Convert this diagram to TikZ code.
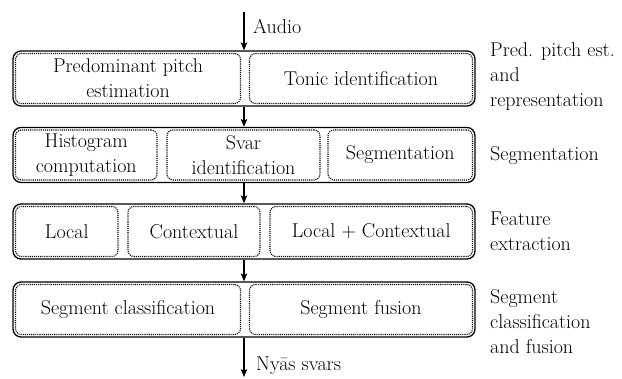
\documentclass[tikz,border=0pt]{standalone}
\usepackage{fontspec}
\usetikzlibrary{arrows.meta}
\begin{document}
\begin{tikzpicture}[x=1pt,y=-1pt,
  every node/.style={font=\fontsize{20}{25}\selectfont},
  outbox/.style={draw, line width=1.3pt, rounded corners=8pt, minimum width=462pt, minimum height=55pt, inner sep=0pt},
  inbox/.style={draw, densely dotted, line width=1.1pt, rounded corners=6pt, minimum height=50pt, align=center, inner sep=0pt},
  flow/.style={line width=1.2pt, -{Stealth[length=8pt,width=6.5pt,inset=2pt]}},
  sidelabel/.style={anchor=west, align=left, inner sep=0pt}]
\useasboundingbox (0,0) rectangle (622,379);
% outer boxes
\node[outbox] (o1) at (244,78.5) {};
\node[outbox] (o2) at (244,155) {};
\node[outbox] (o3) at (244,231.5) {};
\node[outbox] (o4) at (244,309.5) {};
% row 1
\node[inbox, minimum width=225pt] (pp) at (128,78.5) {Predominant pitch\\estimation};
\node[inbox, minimum width=223pt] (ti) at (361,78.5) {Tonic identification};
% row 2
\node[inbox, minimum width=141.5pt] (hc) at (86.25,155) {Histogram\\computation};
\node[inbox, minimum width=153pt] (si) at (243.5,155) {Svar\\identification};
\node[inbox, minimum width=144.5pt] (sg) at (400.25,155) {Segmentation};
% row 3
\node[inbox, minimum width=102.5pt] (lo) at (66.75,231.5) {Local};
\node[inbox, minimum width=132pt] (co) at (194,231.5) {Contextual};
\node[inbox, minimum width=202.5pt] (lc) at (371.25,231.5) {Local + Contextual};
% row 4
\node[inbox, minimum width=225pt] (sc) at (128,309.5) {Segment classification};
\node[inbox, minimum width=223pt] (sf) at (361,309.5) {Segment fusion};
% side labels
\node[sidelabel] (l1) at (490,77) {Pred. pitch est.\\and\\representation};
\node[sidelabel] (l2) at (490,156) {Segmentation};
\node[sidelabel] (l3) at (490,231) {Feature\\extraction};
\node[sidelabel] (l4) at (490,322) {Segment\\classification\\and fusion};
% input / output
\coordinate (in) at (244,12);
\coordinate (out) at (244,377);
\node[anchor=west, inner sep=0pt] (audio) at (253,27) {Audio};
\node[anchor=west, inner sep=0pt] (nyas) at (256,366) {Nyās svars};
% connectors
\draw[flow] (in) -- (o1.north);
\draw[flow] (o1.south) -- (o2.north);
\draw[flow] (o2.south) -- (o3.north);
\draw[flow] (o3.south) -- (o4.north);
\draw[flow] (o4.south) -- (out);
\end{tikzpicture}
\end{document}
